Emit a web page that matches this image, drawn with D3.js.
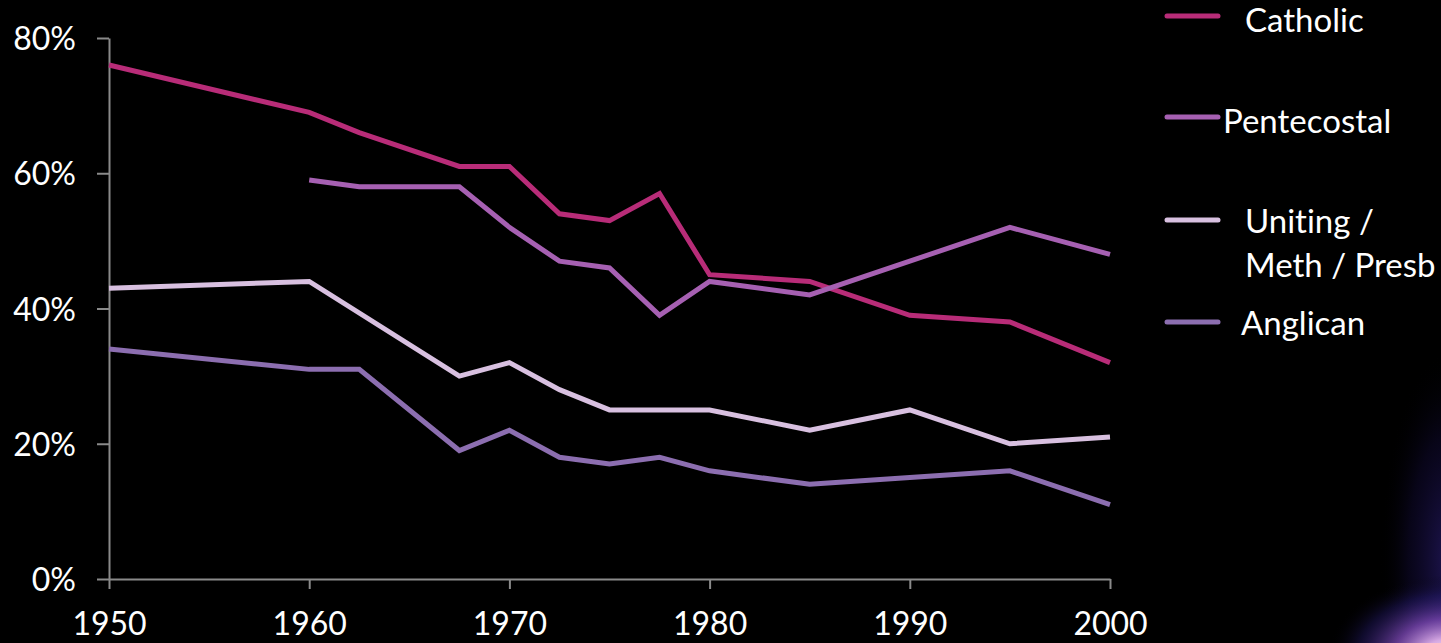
<!DOCTYPE html>
<html><head><meta charset="utf-8">
<script src="https://cdn.jsdelivr.net/npm/d3@7"></script>
<style>
html,body{margin:0;padding:0;background:#000;overflow:hidden}
svg{display:block}
text{font-family:Lato,"Open Sans",sans-serif;fill:#fff;font-variant-ligatures:none}
</style></head>
<body><svg id="c" width="1441" height="643"></svg>
<script>
const years = [1950,1960,1962.5,1967.5,1970,1972.5,1975,1977.5,1980,1985,1990,1995,2000];
const catholic    = [76,69,66,61,61,54,53,57,45,44,39,38,32];
const pentecostal = [null,59,58,58,52,47,46,39,44,42,47,52,48];
const uniting     = [43,44,null,30,32,28,25,25,25,22,25,20,21];
const anglican    = [34,31,31,19,22,18,17,18,16,14,15,16,11];
const seriesNames = ["Catholic","Pentecostal","Uniting / Meth / Presb","Anglican"];
const xTicks = [1950,1960,1970,1980,1990,2000];
const yTicks = [0,20,40,60,80];

const colors = ["#b82c78","#a660b2","#d8c0e0","#8c6eb0"];
const seriesVals = [catholic,pentecostal,uniting,anglican];

const svg = d3.select("#c");
// background glow bottom right
const defs = svg.append("defs");
const g2 = defs.append("radialGradient").attr("id","glow2").attr("cx","50%").attr("cy","50%").attr("r","50%");
g2.append("stop").attr("offset","0%").attr("stop-color","#34248a").attr("stop-opacity",0.6);
g2.append("stop").attr("offset","60%").attr("stop-color","#1a1050").attr("stop-opacity",0.3);
g2.append("stop").attr("offset","100%").attr("stop-color","#000").attr("stop-opacity",0);
svg.append("ellipse").attr("cx",1450).attr("cy",560).attr("rx",70).attr("ry",210).attr("fill","url(#glow2)");
const g1 = defs.append("radialGradient").attr("id","glow").attr("cx","50%").attr("cy","50%").attr("r","50%");
g1.append("stop").attr("offset","0%").attr("stop-color","#fff4fc").attr("stop-opacity",1);
g1.append("stop").attr("offset","20%").attr("stop-color","#e0b0ec").attr("stop-opacity",0.95);
g1.append("stop").attr("offset","45%").attr("stop-color","#8a50c8").attr("stop-opacity",0.7);
g1.append("stop").attr("offset","75%").attr("stop-color","#2c2080").attr("stop-opacity",0.35);
g1.append("stop").attr("offset","100%").attr("stop-color","#000").attr("stop-opacity",0);
svg.append("ellipse").attr("cx",1448).attr("cy",655).attr("rx",120).attr("ry",80).attr("fill","url(#glow)");

const x = d3.scaleLinear().domain([1950,2000]).range([109,1110]);
const y = d3.scaleLinear().domain([0,80]).range([579,38]);

const xAxis = svg.append("g").attr("transform","translate(0,579)")
  .call(d3.axisBottom(x).tickValues(xTicks).tickFormat(d3.format("d")).tickSize(10).tickSizeOuter(0).tickPadding(23));
const yAxis = svg.append("g").attr("transform","translate(109,0)")
  .call(d3.axisLeft(y).tickValues(yTicks).tickFormat(d=>d+"%").tickSize(12).tickSizeOuter(0).tickPadding(21));
[xAxis,yAxis].forEach(a=>{
  a.selectAll("path,line").attr("stroke","#8a8a8a").attr("stroke-width",2);
  a.selectAll("text").attr("fill","#fff").style("font-size","32px").attr("font-family","Lato");
});
yAxis.selectAll("text").attr("dy","0.36em");

const line = d3.line().x(d=>x(d[0])).y(d=>y(d[1]));
seriesVals.forEach((vals,i)=>{
  const pts = years.map((yr,j)=>[yr,vals[j]]).filter(p=>p[1]!==null);
  svg.append("path").attr("d",line(pts)).attr("fill","none")
    .attr("stroke",colors[i]).attr("stroke-width",5).attr("stroke-linejoin","miter");
});

// legend
const leg = [
  {ly:16, lines:["Catholic"], tx:1245, ty:[32]},
  {ly:117, lines:["Pentecostal"], tx:1223, ty:[133]},
  {ly:220, lines:["Uniting /","Meth / Presb"], tx:1245, ty:[233,277]},
  {ly:322, lines:["Anglican"], tx:1241, ty:[335]}
];
leg.forEach((L,i)=>{
  svg.append("line").attr("x1",1167).attr("x2",1218).attr("y1",L.ly).attr("y2",L.ly)
    .attr("stroke",colors[i]).attr("stroke-width",5).attr("stroke-linecap","round");
  L.lines.forEach((t,k)=>{
    svg.append("text").attr("x",L.tx).attr("y",L.ty[k]).style("font-size","33px").text(t);
  });
});
</script></body></html>
